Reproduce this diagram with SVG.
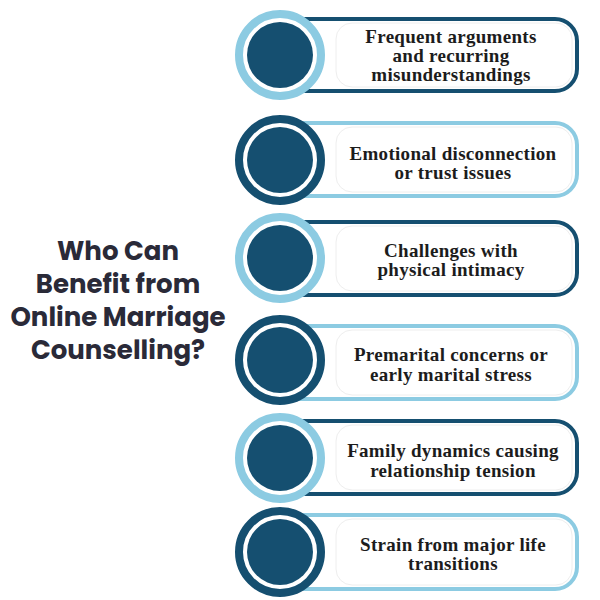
<svg xmlns="http://www.w3.org/2000/svg" width="600" height="600" viewBox="0 0 600 600">
<style>
.t{font-family:"Liberation Serif",serif;font-size:19px;font-weight:bold;fill:#1c1c1c;text-anchor:middle;letter-spacing:0.3px}
.h{font-family:"Poppins","Inter","Liberation Sans",sans-serif;font-weight:bold;font-size:26px;fill:#2a2a38;text-anchor:middle}
.inner{fill:#fff;stroke:#eeeeee;stroke-width:1}
.fill{fill:#154f70}
</style>
<rect width="600" height="600" fill="#fff"/>
<g id="title">
<text class="h" x="118" y="260">Who Can</text>
<text class="h" x="118" y="293">Benefit from</text>
<text class="h" x="118" y="326">Online Marriage</text>
<text class="h" x="118" y="359">Counselling?</text>
</g>
<g id="n1">
<rect x="272" y="19" width="305" height="72" rx="22" fill="#fff" stroke="#154f70" stroke-width="4"/>
<rect class="inner" x="336" y="23" width="236" height="64" rx="16"/>
<circle cx="280" cy="55" r="41" fill="#fff" stroke="#8ccbe2" stroke-width="8"/>
<circle class="fill" cx="280" cy="55" r="33"/>
<text class="t" x="451" y="43">Frequent arguments</text>
<text class="t" x="451" y="62">and recurring</text>
<text class="t" x="451" y="81">misunderstandings</text>
</g>
<g id="n2">
<rect x="272" y="123" width="305" height="73" rx="22" fill="#fff" stroke="#8ccbe2" stroke-width="4"/>
<rect class="inner" x="336" y="127" width="236" height="65" rx="16"/>
<circle cx="280" cy="160" r="41" fill="#fff" stroke="#154f70" stroke-width="8"/>
<circle class="fill" cx="280" cy="160" r="33"/>
<text class="t" x="453" y="160">Emotional disconnection</text>
<text class="t" x="453" y="179">or trust issues</text>
</g>
<g id="n3">
<rect x="272" y="222" width="305" height="73" rx="22" fill="#fff" stroke="#154f70" stroke-width="4"/>
<rect class="inner" x="336" y="226" width="236" height="65" rx="16"/>
<circle cx="280" cy="258" r="41" fill="#fff" stroke="#8ccbe2" stroke-width="8"/>
<circle class="fill" cx="280" cy="258" r="33"/>
<text class="t" x="451" y="257">Challenges with</text>
<text class="t" x="451" y="276">physical intimacy</text>
</g>
<g id="n4">
<rect x="272" y="326" width="305" height="73" rx="22" fill="#fff" stroke="#8ccbe2" stroke-width="4"/>
<rect class="inner" x="336" y="330" width="236" height="65" rx="16"/>
<circle cx="280" cy="360" r="41" fill="#fff" stroke="#154f70" stroke-width="8"/>
<circle class="fill" cx="280" cy="360" r="33"/>
<text class="t" x="451" y="361">Premarital concerns or</text>
<text class="t" x="451" y="381">early marital stress</text>
</g>
<g id="n5">
<rect x="272" y="421" width="305" height="73" rx="22" fill="#fff" stroke="#154f70" stroke-width="4"/>
<rect class="inner" x="336" y="425" width="236" height="65" rx="16"/>
<circle cx="280" cy="458" r="41" fill="#fff" stroke="#8ccbe2" stroke-width="8"/>
<circle class="fill" cx="280" cy="458" r="33"/>
<text class="t" x="453" y="457">Family dynamics causing</text>
<text class="t" x="453" y="477">relationship tension</text>
</g>
<g id="n6">
<rect x="272" y="515" width="305" height="74" rx="22" fill="#fff" stroke="#8ccbe2" stroke-width="4"/>
<rect class="inner" x="336" y="519" width="236" height="66" rx="16"/>
<circle cx="280" cy="552" r="41" fill="#fff" stroke="#154f70" stroke-width="8"/>
<circle class="fill" cx="280" cy="552" r="33"/>
<text class="t" x="453" y="551">Strain from major life</text>
<text class="t" x="453" y="570">transitions</text>
</g>
<g id="connectors"/>
</svg>
